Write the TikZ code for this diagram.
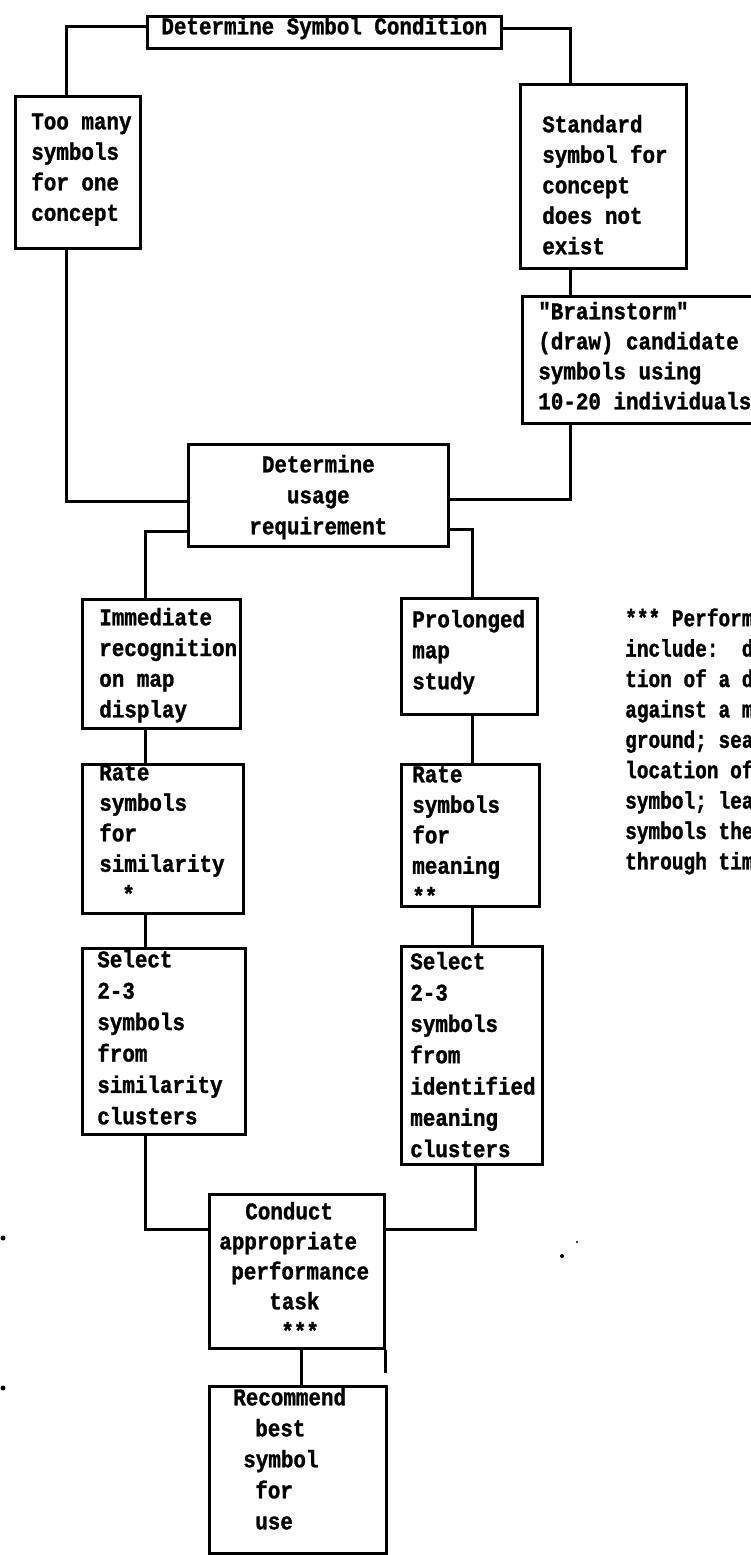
\documentclass[tikz,border=0pt]{standalone}
\usepackage{fontspec}
\newfontfamily\tw{Liberation Mono Bold}[FakeStretch=0.87,FakeBold=1.2]
\newfontfamily\twn{Liberation Mono Bold}[FakeStretch=0.81,FakeBold=1.2]
\newcommand\upr[1]{\rule{0pt}{#1pt}}
\newcommand\dnr[1]{\rule[-#1pt]{0pt}{#1pt}}
\tikzset{
  x=1pt, y=-1pt,
  conn/.style={line width=2.6pt},
  bx/.style 2 args={draw, line width=2.6pt, inner sep=0pt, anchor=north west,
    align=left, text width=#1,
    execute at begin node={\leftskip=#2\relax\spaceskip=12.528pt\relax}},
  cbx/.style={draw, line width=2.6pt, inner sep=0pt, anchor=north west,
    align=center, text width=#1,
    execute at begin node={\spaceskip=12.528pt\relax}},
  ls/.style={font=\tw\fontsize{24}{#1}\selectfont},
}
\begin{document}
\begin{tikzpicture}
\fill[white] (0,0) rectangle (750,1555);
\useasboundingbox (0,0) rectangle (750,1555);

% boxes
\node[cbx=354pt, ls=30.5] (cond) at (146,15) {\upr{18}Determine Symbol Condition\dnr{14}};
\node[bx={125pt}{16pt}, ls=30.5] (many) at (14,95)
  {\upr{33}Too many\\symbols\\for one\\concept\dnr{27.5}};
\node[bx={166pt}{22pt}, ls=30.5] (std) at (519,83)
  {\upr{48}Standard\\symbol for\\concept\\does not\\exist\dnr{14}};
\node[bx={249pt}{16pt}, ls=30] (brain) at (521,295)
  {\upr{23}"Brainstorm"\\(draw) candidate\\symbols using\\10-20 individuals\dnr{14}};
\node[cbx=260pt, ls=31] (usage) at (187,443)
  {\upr{28}Determine\\usage\\requirement\dnr{12}};
\node[bx={158pt}{17pt}, ls=30.7] (imm) at (81,598)
  {\upr{26}Immediate\\recognition\\on map\\display\dnr{11}};
\node[bx={161pt}{17pt}, ls=30.5] (rsim) at (81,763)
  {\upr{16}Rate\\symbols\\for\\similarity\\\hspace*{23pt}*\dnr{11}};
\node[bx={136pt}{11pt}, ls=31] (pro) at (400,597)
  {\upr{29}Prolonged\\map\\study\dnr{25}};
\node[bx={138pt}{11pt}, ls=30.5] (rmean) at (400,763)
  {\upr{18}Rate\\symbols\\for\\meaning\\{}**\dnr{2}};
\node[bx={163pt}{15pt}, ls=31.4] (ssim) at (81,947)
  {\upr{19}Select\\2-3\\symbols\\from\\similarity\\clusters\dnr{10}};
\node[bx={141pt}{9pt}, ls=31.3] (smean) at (400,945)
  {\upr{23}Select\\2-3\\symbols\\from\\identified\\meaning\\clusters\dnr{7.2}};
\node[bx={175pt}{10pt}, ls=30] (conduct) at (208,1193)
  {\upr{25}\hspace*{26pt}Conduct\\appropriate\\\hspace*{12pt}performance\\\hspace*{50pt}task\\\hspace*{62pt}***\dnr{9}};
\node[bx={177pt}{24pt}, ls=31] (rec) at (208,1385)
  {\upr{19}Recommend\\\hspace*{22pt}best\\\hspace*{10pt}symbol\\\hspace*{22pt}for\\\hspace*{22pt}use\dnr{24}};

% footnote (cut by the page edge, as in the reference)
\node[anchor=north west, inner sep=0pt, align=left, text width=200pt,
  font=\twn\fontsize{24}{30.4}\selectfont,
  execute at begin node={\spaceskip=11.664pt\relax}] (note) at (625,606)
  {\upr{20}*** Perform\\include:~~d\\tion of a d\\against a m\\ground; sea\\location of\\symbol; lea\\symbols the\\through tim};

% connectors
\draw[conn] ([yshift=6pt]cond.west) -| ([xshift=-11.5pt]many.north);
\draw[conn] ([yshift=4pt]cond.east) -| ([xshift=-33pt]std.north);
\draw[conn] ([xshift=-33pt]std.south) -- ([xshift=-33pt]std.south |- brain.north);
\draw[conn] ([xshift=-11.5pt]many.south) |- ([yshift=-6pt]usage.west);
\draw[conn] ([xshift=-76.5pt]brain.south) |- ([yshift=-4pt]usage.east);
\draw[conn] ([yshift=-36pt]usage.west) -| ([xshift=-16pt]imm.north);
\draw[conn] ([yshift=-34pt]usage.east) -| ([xshift=3pt]pro.north);
\draw[conn] ([xshift=-16pt]imm.south) -- ([xshift=-16pt]imm.south |- rsim.north);
\draw[conn] ([xshift=-17.5pt]rsim.south) -- ([xshift=-17.5pt]rsim.south |- ssim.north);
\draw[conn] ([xshift=3pt]pro.south) -- ([xshift=3pt]pro.south |- rmean.north);
\draw[conn] ([xshift=2pt]rmean.south) -- ([xshift=2pt]rmean.south |- smean.north);
\draw[conn] ([xshift=-18.5pt]ssim.south) |- ([yshift=42pt]conduct.west);
\draw[conn] ([xshift=3.5pt]smean.south) |- ([yshift=42pt]conduct.east);
\draw[conn] ([xshift=4.5pt]conduct.south) -- ([xshift=4.5pt]conduct.south |- rec.north);
\draw[conn] (conduct.south east) -- ++(0,23);

% stray specks of the scan
\fill (3,1238) circle (2.5pt);
\fill (3,1388) circle (2.5pt);
\fill (577,1242) circle (1.2pt);
\fill (562,1256) circle (2pt);
\end{tikzpicture}
\end{document}
